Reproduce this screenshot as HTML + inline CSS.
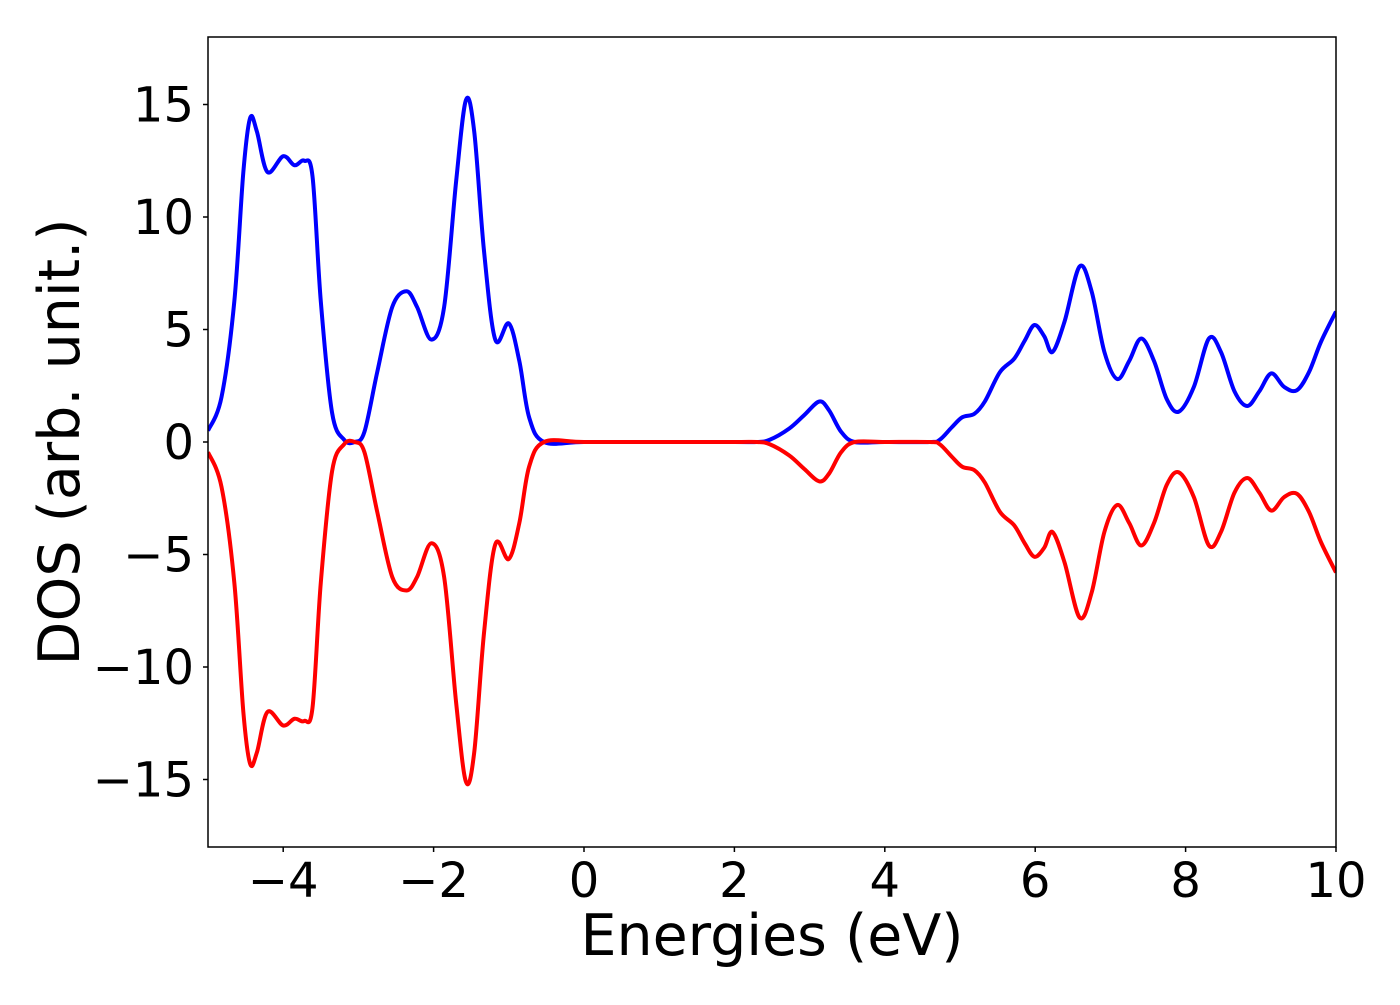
<!DOCTYPE html>
<html><head><meta charset="utf-8"><style>
html,body{margin:0;padding:0;background:#fff;}
svg text{font-family:"DejaVu Sans","Liberation Sans",sans-serif;fill:#000;}
</style></head><body>
<svg width="1400" height="1000" viewBox="0 0 1400 1000" xmlns="http://www.w3.org/2000/svg">
<g id="plot"></g>
</svg>
<script>
const energies = [-5,-4.82,-4.65,-4.53,-4.44,-4.35,-4.21,-4.0,-3.85,-3.72,-3.61,-3.5,-3.35,-3.19,-3.05,-2.92,-2.75,-2.55,-2.36,-2.22,-2.03,-1.86,-1.7,-1.57,-1.46,-1.33,-1.18,-1.0,-0.86,-0.73,-0.53,0,1,2,2.3,2.47,2.73,2.93,3.13,3.26,3.42,3.6,4,4.6,4.73,4.89,5.03,5.19,5.33,5.53,5.72,5.86,5.99,6.12,6.23,6.39,6.59,6.75,6.92,7.09,7.25,7.41,7.58,7.75,7.91,8.11,8.31,8.47,8.65,8.82,8.98,9.14,9.31,9.48,9.64,9.8,10];
const dosUp = [0.5,2.0,6.25,12,14.4,13.8,12,12.7,12.3,12.5,11.8,6.25,1.3,0.1,0,0.45,3.1,6.0,6.7,6.0,4.55,6.0,11.6,15.2,13.8,8.5,4.55,5.27,3.6,1.1,0,0,0,0,0,0.1,0.6,1.2,1.8,1.4,0.45,0,0,0,0.1,0.65,1.1,1.25,1.8,3.1,3.7,4.5,5.2,4.7,4.0,5.35,7.8,6.7,4.0,2.8,3.6,4.6,3.6,1.9,1.35,2.45,4.6,4.0,2.25,1.6,2.25,3.05,2.45,2.3,3.1,4.45,5.8];
const dosDown = [-0.45,-2.0,-6.25,-12,-14.3,-13.8,-12,-12.6,-12.3,-12.4,-11.8,-6.25,-1.3,-0.1,0,-0.45,-3.1,-6.0,-6.6,-6.0,-4.5,-6.0,-11.6,-15.1,-13.8,-8.5,-4.55,-5.2,-3.6,-1.1,0,0,0,0,0,-0.1,-0.6,-1.2,-1.75,-1.4,-0.45,0,0,0,-0.1,-0.65,-1.1,-1.25,-1.8,-3.1,-3.7,-4.5,-5.1,-4.7,-4.0,-5.35,-7.8,-6.7,-4.0,-2.8,-3.6,-4.6,-3.6,-1.9,-1.35,-2.45,-4.6,-4.0,-2.25,-1.6,-2.25,-3.05,-2.45,-2.3,-3.1,-4.45,-5.8];
const xTicks = [-4,-2,0,2,4,6,8,10];
const yTicks = [-15,-10,-5,0,5,10,15];
const xTickLabels = ["\u22124","\u22122","0","2","4","6","8","10"];
const yTickLabels = ["\u221215","\u221210","\u22125","0","5","10","15"];

const L=208,R=1336,T=37,B=847,xMin=-5,xMax=10,yMin=-18,yMax=18;
const sx=v=>L+(v-xMin)/(xMax-xMin)*(R-L);
const sy=v=>B-(v-yMin)/(yMax-yMin)*(B-T);
const NS="http://www.w3.org/2000/svg";
const g=document.getElementById('plot');
function mk(t,a){const e=document.createElementNS(NS,t);for(const k in a)e.setAttribute(k,a[k]);g.appendChild(e);return e;}
function pathFor(xs,ys){
  const p=xs.map((x,i)=>[sx(x),sy(ys[i])]);
  let d="M"+p[0][0]+","+p[0][1];
  for(let i=0;i<p.length-1;i++){
    const p0=p[Math.max(0,i-1)],p1=p[i],p2=p[i+1],p3=p[Math.min(p.length-1,i+2)];
    const c1=[p1[0]+(p2[0]-p0[0])/6,p1[1]+(p2[1]-p0[1])/6];
    const c2=[p2[0]-(p3[0]-p1[0])/6,p2[1]-(p3[1]-p1[1])/6];
    d+=" C"+c1[0]+","+c1[1]+" "+c2[0]+","+c2[1]+" "+p2[0]+","+p2[1];
  }
  return d;
}
const clip=mk('clipPath',{id:'cp'});
const cr=document.createElementNS(NS,'rect');cr.setAttribute('x',L);cr.setAttribute('y',T);cr.setAttribute('width',R-L);cr.setAttribute('height',B-T);clip.appendChild(cr);
const up=mk('path',{d:pathFor(energies,dosUp),fill:'none',stroke:'#0000ff','stroke-width':4,'clip-path':'url(#cp)'});


const dn=mk('path',{d:pathFor(energies,dosDown),fill:'none',stroke:'#ff0000','stroke-width':4,'clip-path':'url(#cp)'});


const fr=mk('rect',{x:L,y:T,width:R-L,height:B-T,fill:'none',stroke:'#000','stroke-width':1.5});


xTicks.forEach((v,i)=>{
  const tk=mk('line',{x1:sx(v),x2:sx(v),y1:B,y2:B+5,stroke:'#000','stroke-width':1.5});
  
  
  const t=mk('text',{x:sx(v),y:B+50,'text-anchor':'middle','font-size':48});
  t.textContent=xTickLabels[i];
  
  
});
yTicks.forEach((v,i)=>{
  const tk=mk('line',{x1:L-5,x2:L,y1:sy(v),y2:sy(v),stroke:'#000','stroke-width':1.5});
  
  
  const t=mk('text',{x:L-14,y:sy(v)+17,'text-anchor':'end','font-size':48});
  t.textContent=yTickLabels[i];
  
  
});
const xt=mk('text',{x:(L+R)/2,y:955,'text-anchor':'middle','font-size':57});
xt.textContent='Energies (eV)';


const yt=mk('text',{x:0,y:0,'text-anchor':'middle','font-size':57,transform:'translate(79,442) rotate(-90)'});
yt.textContent='DOS (arb. unit.)';


</script>
</body></html>
